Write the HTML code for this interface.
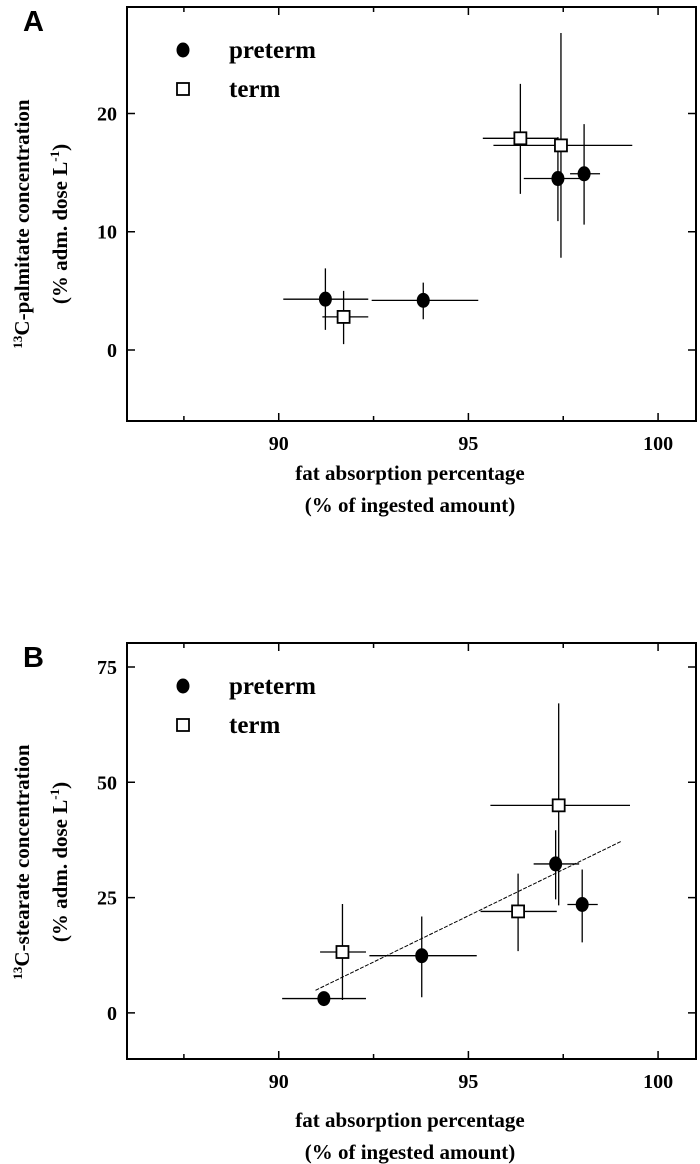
<!DOCTYPE html>
<html><head><meta charset="utf-8"><style>
html,body{margin:0;padding:0;background:#fff}
svg{display:block}
.t{font-family:"Liberation Serif",serif;font-weight:bold;fill:#000}
.s{font-family:"Liberation Sans",sans-serif;font-weight:bold;fill:#000}
</style></head><body>
<svg id="fig" width="700" height="1164" viewBox="0 0 700 1164" xmlns="http://www.w3.org/2000/svg"></svg>
<script>
// Panel A data: [x, y, xlo, xhi, ylo, yhi]
const aPretermX = [91.23, 93.81, 97.36, 98.05];
const aPretermY = [4.3, 4.2, 14.5, 14.9];
const aPretermXErr = [[90.12,92.36],[92.45,95.26],[96.46,97.94],[97.68,98.47]];
const aPretermYErr = [[1.7,6.9],[2.6,5.7],[10.9,18.0],[10.6,19.1]];
const aTermX = [91.71, 96.37, 97.44];
const aTermY = [2.8, 17.9, 17.3];
const aTermXErr = [[91.15,92.36],[95.38,97.35],[95.66,99.32]];
const aTermYErr = [[0.5,5.0],[13.2,22.5],[7.8,26.8]];
const aYTicks = [0, 10, 20];
// Panel B data
const bPretermX = [91.19, 93.77, 97.30, 98.0];
const bPretermY = [3.1, 12.4, 32.3, 23.5];
const bPretermXErr = [[90.09,92.30],[92.39,95.22],[96.72,97.92],[97.61,98.41]];
const bPretermYErr = [[3.1,3.1],[3.4,20.9],[24.6,39.6],[15.3,31.1]];
const bTermX = [91.68, 96.31, 97.38];
const bTermY = [13.2, 22.0, 45.0];
const bTermXErr = [[91.09,92.30],[95.32,97.33],[95.58,99.26]];
const bTermYErr = [[2.8,23.6],[13.4,30.2],[23.3,67.1]];
const bYTicks = [0, 25, 50, 75];
const bFitX = [90.97, 99.03];
const bFitY = [4.9, 37.2];
const xTicks = [90, 95, 100];
const xMinor = [87.5, 92.5, 97.5];

const NS = "http://www.w3.org/2000/svg";
const svg = document.getElementById('fig');
function mk(tag, attrs, parent, text){
  const e = document.createElementNS(NS, tag);
  for (const k in attrs) e.setAttribute(k, attrs[k]);
  if (text !== undefined) e.textContent = text;
  (parent||svg).appendChild(e);
  return e;
}

function panel(cfg){
  const g = mk('g', {});
  
  
  const L=127, R=696, T=cfg.top, B=cfg.bottom;
  const xs = v => L + (v-86)/(101-86)*(R-L);
  const ys = v => B - (v-cfg.ymin)/(cfg.ymax-cfg.ymin)*(B-T);
  const frame = mk('rect', {x:L, y:T, width:R-L, height:B-T, fill:'none', stroke:'#000', 'stroke-width':2}, g);
  
  
  xTicks.forEach(v => {
    const x = xs(v);
    const tk = mk('path', {d:`M${x},${B}v-8M${x},${T}v8`, stroke:'#000','stroke-width':1.5}, g);
    
    
    const lb = mk('text', {x:x, y:B+29, 'text-anchor':'middle', 'font-size':20, class:'t'}, g, String(v));
    
    
  });
  xMinor.forEach(v => {
    const x = xs(v);
    const tk = mk('path', {d:`M${x},${B}v-5M${x},${T}v5`, stroke:'#000','stroke-width':1.5}, g);
    
    
  });
  cfg.yticks.forEach(v => {
    const y = ys(v);
    const tk = mk('path', {d:`M${L},${y}h8M${R},${y}h-8`, stroke:'#000','stroke-width':1.5}, g);
    
    
    const lb = mk('text', {x:L-10, y:y+7, 'text-anchor':'end', 'font-size':20, class:'t'}, g, String(v));
    
    
  });
  if (cfg.fitX){
    const fl = mk('line', {x1:xs(cfg.fitX[0]), y1:ys(cfg.fitY[0]), x2:xs(cfg.fitX[1]), y2:ys(cfg.fitY[1]), stroke:'#000','stroke-width':1,'stroke-dasharray':'4,1.5'}, g);
    
    
  }
  function series(X, Y, XE, YE, kind){
    X.forEach((xv,i) => {
      const cx = xs(xv), cy = ys(Y[i]);
      const eb = mk('path', {d:`M${xs(XE[i][0])},${cy}H${xs(XE[i][1])}M${cx},${ys(YE[i][0])}V${ys(YE[i][1])}`, stroke:'#000','stroke-width':1.3, fill:'none'}, g);
      
      
      let m;
      if (kind==='preterm') m = mk('ellipse', {cx:cx, cy:cy, rx:6.5, ry:7.5, fill:'#000'}, g);
      else m = mk('rect', {x:cx-6, y:cy-6, width:12, height:12, fill:'#fff', stroke:'#000','stroke-width':1.8}, g);
      
      
    });
  }
  series(cfg.pX, cfg.pY, cfg.pXE, cfg.pYE, 'preterm');
  series(cfg.tX, cfg.tY, cfg.tXE, cfg.tYE, 'term');
  // legend
  const l1 = mk('ellipse', {cx:183, cy:cfg.leg1, rx:6.5, ry:7.5, fill:'#000'}, g);
  
  
  const t1 = mk('text', {x:229, y:cfg.leg1+8, 'font-size':25, class:'t'}, g, 'preterm');
  
  
  const l2 = mk('rect', {x:177, y:cfg.leg2-6, width:12, height:12, fill:'#fff', stroke:'#000','stroke-width':1.8}, g);
  
  
  const t2 = mk('text', {x:229, y:cfg.leg2+8, 'font-size':25, class:'t'}, g, 'term');
  
  
  // panel letter
  const pl = mk('text', {x:23, y:cfg.top+24, 'font-size':29, class:'s'}, g, cfg.letter);
  
  
  // axis titles
  const xt1 = mk('text', {x:410, y:cfg.xl1, 'text-anchor':'middle', 'font-size':21, class:'t'}, g, 'fat absorption percentage');
  
  
  const xt2 = mk('text', {x:410, y:cfg.xl1+32, 'text-anchor':'middle', 'font-size':21, class:'t'}, g, '(% of ingested amount)');
  
  
  const cy = cfg.ylc;
  const yt1 = mk('text', {x:0, y:0, transform:`translate(29,${cy}) rotate(-90)`, 'text-anchor':'middle', 'font-size':21, class:'t'}, g);
  
  
  mk('tspan', {'font-size':13, dy:-7}, yt1, '13');
  mk('tspan', {dy:7}, yt1, cfg.ytitle);
  const yt2 = mk('text', {x:0, y:0, transform:`translate(67,${cy}) rotate(-90)`, 'text-anchor':'middle', 'font-size':21, class:'t'}, g);
  
  
  mk('tspan', {}, yt2, '(% adm. dose L');
  mk('tspan', {'font-size':13, dy:-8}, yt2, '-1');
  mk('tspan', {dy:8}, yt2, ')');
}

panel({name:'panel-a', letter:'A', top:7, bottom:421, ymin:-6, ymax:29, yticks:aYTicks,
  pX:aPretermX, pY:aPretermY, pXE:aPretermXErr, pYE:aPretermYErr,
  tX:aTermX, tY:aTermY, tXE:aTermXErr, tYE:aTermYErr,
  leg1:50, leg2:89, xl1:480, ylc:224, ytitle:'C-palmitate concentration'});
panel({name:'panel-b', letter:'B', top:643, bottom:1059, ymin:-10, ymax:80.2, yticks:bYTicks,
  pX:bPretermX, pY:bPretermY, pXE:bPretermXErr, pYE:bPretermYErr,
  tX:bTermX, tY:bTermY, tXE:bTermXErr, tYE:bTermYErr, fitX:bFitX, fitY:bFitY,
  leg1:686, leg2:725, xl1:1127, ylc:862, ytitle:'C-stearate concentration'});
</script>
</body></html>
